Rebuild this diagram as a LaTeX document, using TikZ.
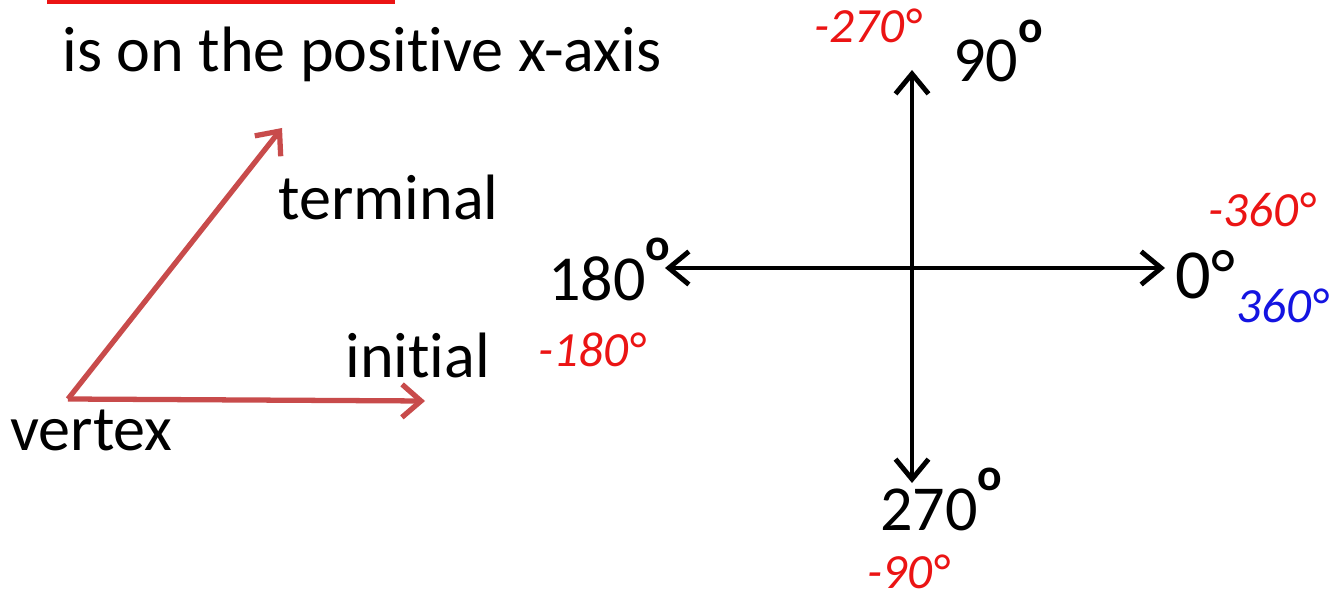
\documentclass[tikz,border=0pt]{standalone}
\usepackage{fontspec}
\setmainfont[Ligatures=NoCommon]{Carlito}
\usetikzlibrary{arrows.meta}
\definecolor{rayred}{RGB}{200,75,75}
\definecolor{inkred}{RGB}{235,20,20}
\definecolor{inkblue}{RGB}{20,20,225}
\tikzset{
  ray/.style={-{Straight Barb[length=3.8mm,width=6.6mm]},line width=3pt,draw=rayred},
  axis line/.style={{Straight Barb[length=4mm,width=6.6mm]}-{Straight Barb[length=4mm,width=6.6mm]},line width=2.8pt,draw=black},
  wordtxt/.style={font=\fontsize{36.5}{42}\selectfont,inner sep=0pt},
  handnote/.style={font=\fontsize{28}{32}\selectfont\itshape,inner sep=0pt}
}
\newcommand{\degring}{\raisebox{0.62em}{\fontsize{26}{26}\selectfont\bfseries o}}

\begin{document}
\begin{tikzpicture}[x=0.02cm,y=-0.02cm]
  \useasboundingbox (0,0) rectangle (1341,604);

  % cut-off heading
  \fill[inkred] (47,0) rectangle (395,4);
  \node[wordtxt,anchor=base west] (head) at (62,72) {is on the positive x-axis};

  % the angle
  \coordinate (vtx) at (68,399);
  \coordinate (initTip) at (425,401);
  \coordinate (termTip) at (282,128);
  \draw[ray] (vtx) -- (initTip);
  \draw[ray] (vtx) -- (termTip);
  \node[wordtxt,anchor=base west] (termLbl) at (278,220) {terminal};
  \node[wordtxt,anchor=base west] (initLbl) at (345,377) {initial};
  \node[wordtxt,anchor=base west] (vtxLbl) at (10,450) {vertex};

  % the axes
  \coordinate (top) at (912,70);
  \coordinate (bottom) at (912,483);
  \coordinate (west) at (665,268);
  \coordinate (east) at (1165,268);
  \draw[axis line] (west) -- (east);
  \draw[axis line] (top) -- (bottom);
  \node[wordtxt,anchor=base west] (deg90) at (953,82) {90\degring};
  \node[wordtxt,anchor=base west] (deg180) at (548,300) {180\degring};
  \node[wordtxt,anchor=base west,font=\fontsize{40}{46}\selectfont] (deg0) at (1175,298) {0°};
  \node[wordtxt,anchor=base west] (deg270) at (880,530) {270\degring};

  % written on
  \node[handnote,text=inkred] (neg270) at (868,26) {-270°};
  \node[handnote,text=inkred] (neg360) at (1262,210) {-360°};
  \node[handnote,text=inkblue] (pos360) at (1282,306) {360°};
  \node[handnote,text=inkred] (neg180) at (592,350) {-180°};
  \node[handnote,text=inkred] (neg90) at (908,572) {-90°};
\end{tikzpicture}
\end{document}
